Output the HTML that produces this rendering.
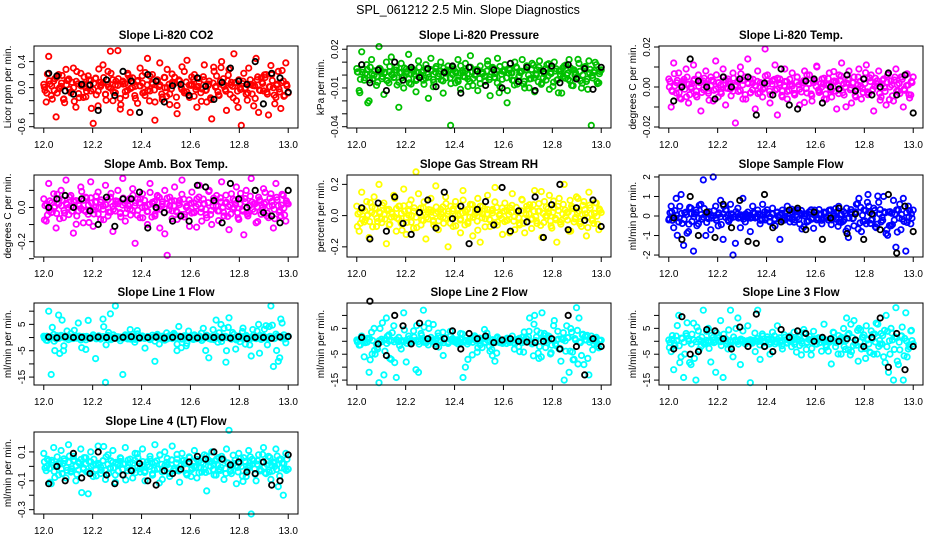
<!DOCTYPE html>
<html><head><meta charset="utf-8"><style>
html,body{margin:0;padding:0;background:#fff;}
svg{display:block;font-family:"Liberation Sans",Arial,sans-serif;}
</style></head><body>
<svg id="chart" width="936" height="540" viewBox="0 0 936 540">
<text x="468" y="14" text-anchor="middle" font-size="12.5">SPL_061212  2.5 Min. Slope Diagnostics</text>
</svg>
<script>
const xTickLabels = ["12.0","12.2","12.4","12.6","12.8","13.0"];
const xTickValues = [12.0,12.2,12.4,12.6,12.8,13.0];

const co2Vals = [0.05,-0.22,0.48,-0.12,0.1,-0.45,0.2,0.02,-0.18,0.28,0.12,-0.08,0.3,-0.3,0.06,0.22,-0.15,0.0,0.18,-0.05,-0.55,0.14,-0.28,0.08,0.35,-0.1,0.25,0.56,-0.2,0.04,0.57,-0.33,0.1,-0.06,0.22,-0.38,0.15,0.02,-0.24,0.3,0.07,-0.12,0.45,-0.05,0.2,-0.5,0.12,0.38,-0.18,0.0,0.28,-0.26,0.08,0.16,-0.4,0.1,0.32,-0.08,0.42,-0.15,0.05,0.2,-0.3,0.14,-0.02,0.35,-0.22,0.1,-0.48,0.25,0.18,-0.12,0.4,0.02,-0.35,0.28,0.08,0.52,-0.2,0.12,-0.58,0.22,-0.1,0.3,0.05,-0.28,0.45,-0.38,0.15,-0.05,0.2,-0.42,0.34,0.0,-0.15,0.25,-0.32,0.1,0.38,-0.08];
const co2Black = [0.22,0.18,-0.05,-0.1,0.05,0.04,-0.35,0.12,-0.12,0.25,0.1,-0.38,0.2,0.1,-0.22,0.03,0.05,-0.12,0.15,0.02,-0.18,0.08,0.3,0.1,0.05,0.4,-0.25,0.22,0.15,-0.07];
const presVals = [0.005,-0.012,0.018,-0.004,0.008,-0.02,0.012,0.0,-0.008,0.022,0.003,-0.015,0.01,-0.006,0.014,-0.002,0.006,-0.025,0.009,-0.01,0.002,0.016,-0.007,0.004,-0.013,0.011,0.0,-0.004,0.008,-0.018,0.013,-0.009,0.005,-0.001,0.01,-0.014,0.003,0.007,-0.039,0.006,-0.006,0.012,-0.011,0.002,0.009,-0.003,0.015,-0.008,0.004,-0.012,0.007,0.001,-0.005,0.011,-0.016,0.006,-0.002,0.013,-0.009,0.003,0.008,-0.012,0.005,-0.004,0.01,-0.007,0.002,0.012,-0.01,0.006,-0.003,0.009,-0.013,0.004,0.011,-0.006,0.001,0.008,-0.011,0.005,0.01,-0.004,0.003,-0.014,0.007,0.0,0.012,-0.008,0.004,-0.002,0.009,-0.01,0.006,-0.005,0.011,-0.039,0.002,0.008,-0.006,0.004];
const presBlack = [0.008,-0.006,0.004,-0.012,0.01,-0.004,0.006,-0.002,0.005,-0.009,0.002,0.007,-0.014,0.006,0.003,-0.008,0.004,-0.01,0.009,-0.005,0.006,-0.012,0.003,0.007,-0.006,0.008,-0.003,0.005,-0.011,0.006];
const tempVals = [0.004,-0.01,0.012,-0.003,0.007,-0.006,0.002,0.009,-0.008,0.0,0.011,-0.004,0.006,-0.012,0.003,0.008,-0.002,0.005,-0.007,0.013,-0.005,0.001,0.009,-0.009,0.004,-0.001,0.007,-0.018,0.003,0.01,-0.006,0.005,0.014,-0.003,0.002,-0.011,0.008,0.0,-0.005,0.019,0.006,-0.008,0.003,0.011,-0.014,0.004,-0.002,0.009,-0.006,0.001,0.007,-0.004,0.005,-0.009,0.002,0.008,-0.003,0.006,-0.007,0.003,0.01,-0.002,0.004,-0.006,0.001,0.007,-0.005,0.003,-0.011,0.006,0.012,-0.004,0.002,0.008,-0.008,0.005,-0.001,0.009,-0.006,0.004,0.011,-0.003,0.006,-0.012,0.002,0.008,-0.005,0.004,-0.009,0.007,0.003,-0.007,0.009,-0.002,0.005,-0.01,0.006,0.001,-0.004,0.005];
const tempBlack = [-0.007,0.0,0.014,0.003,0.0,-0.006,0.005,0.0,0.004,0.005,-0.014,0.002,-0.004,0.009,-0.009,-0.011,0.003,0.004,-0.008,0.0,-0.001,0.006,-0.002,0.004,-0.004,0.0,0.007,-0.004,0.006,-0.013];
const ambVals = [0.05,-0.08,0.14,-0.03,0.08,-0.12,0.02,0.1,-0.06,0.16,0.0,0.07,-0.15,0.04,-0.02,0.12,-0.09,0.06,-0.04,0.15,-0.11,0.03,0.09,-0.07,0.01,0.13,-0.05,0.06,-0.14,0.02,0.1,-0.03,0.17,-0.08,0.04,-0.01,0.11,-0.21,0.05,-0.06,0.08,0.0,-0.1,0.14,0.03,-0.05,0.07,-0.12,0.02,0.1,-0.28,0.06,-0.02,0.12,-0.07,0.04,0.16,-0.04,0.01,-0.11,0.09,-0.03,0.05,0.13,-0.08,0.02,-0.06,0.1,-0.1,0.04,0.07,-0.02,0.15,-0.05,0.03,-0.13,0.08,0.0,0.12,-0.07,0.05,-0.16,0.1,-0.03,0.17,0.02,-0.09,0.06,-0.04,0.11,0.03,-0.06,0.08,-0.12,0.14,0.01,-0.05,0.07,-0.08,0.02];
const ambBlack = [0.0,0.05,0.07,0.0,0.05,-0.02,-0.1,0.06,-0.11,0.05,0.05,0.09,-0.12,0.0,-0.03,-0.08,-0.05,-0.08,0.13,0.12,0.04,-0.09,0.14,0.05,0.0,0.1,-0.03,-0.05,-0.09,0.1];
const rhVals = [0.06,-0.1,0.15,-0.04,0.09,-0.14,0.02,0.12,-0.07,0.2,-0.02,0.08,-0.18,0.04,-0.01,0.13,-0.1,0.06,-0.05,0.17,-0.12,0.03,0.1,-0.08,0.28,0.14,-0.06,0.05,-0.15,0.02,0.11,-0.03,0.19,-0.09,0.04,-0.01,0.12,-0.2,0.06,-0.07,0.09,0.0,-0.11,0.16,0.03,-0.05,0.07,-0.13,0.02,0.11,-0.17,0.06,-0.02,0.13,-0.07,0.04,0.18,-0.04,0.01,-0.12,0.08,-0.03,0.05,0.14,-0.09,0.02,-0.06,0.1,-0.11,0.04,0.07,-0.02,0.16,-0.05,0.03,-0.14,0.09,0.0,0.13,-0.08,0.05,-0.17,0.11,-0.03,0.2,0.02,-0.1,0.06,-0.04,0.12,0.03,-0.07,0.09,-0.13,0.15,0.01,-0.05,0.08,-0.09,0.02];
const rhBlack = [0.05,-0.15,0.08,-0.1,0.12,-0.05,-0.12,0.02,0.1,-0.08,0.15,-0.02,0.06,-0.18,0.04,0.09,-0.06,0.18,-0.1,0.03,-0.04,0.12,-0.14,0.07,0.2,-0.09,0.05,-0.03,0.1,-0.07];
const sfVals = [-0.2,0.5,-0.6,0.9,-0.3,1.1,-1.5,0.2,-0.8,0.4,-1.8,0.3,-0.4,0.6,1.85,-1.0,0.1,-0.7,2.0,0.5,-0.5,0.8,-1.2,0.3,-0.2,0.6,-2.0,-1.4,0.4,-0.6,0.9,-0.3,0.2,-0.8,0.5,-0.1,0.3,-0.4,0.6,-0.2,0.1,-0.3,0.4,-0.5,0.2,-1.2,0.3,-0.1,0.5,-0.3,0.2,-0.2,0.3,-0.4,0.1,0.0,-0.3,0.2,-0.1,0.3,-0.2,0.1,-0.4,0.2,-0.1,0.3,-0.2,0.0,0.2,-0.3,0.1,-0.2,0.4,-0.1,0.2,-0.5,0.6,0.9,-0.8,0.3,-0.4,0.5,-0.2,0.4,-0.6,0.7,-0.3,1.0,-0.9,0.2,-0.5,0.8,-1.6,0.3,-0.7,0.9,-1.8,0.5,-0.4,0.3];
const sfBlack = [-0.1,-1.2,1.0,-1.0,0.2,-1.1,0.6,-0.6,0.8,-1.3,-1.4,1.1,-0.6,-0.3,0.3,0.4,-0.7,0.2,-1.2,-0.1,0.4,-0.9,0.1,-1.2,0.1,-0.7,1.1,-1.9,0.5,-0.8];
const l1Vals = [0.5,-1.0,10.0,-14.0,1.2,-0.5,8.5,0.8,-5.0,0.3,-0.8,1.5,-0.2,0.6,5.5,-0.9,0.4,-4.5,6.5,-0.3,1.0,-8.0,0.2,-0.6,7.0,-17.0,0.8,9.0,-0.4,12.0,0.3,-1.2,-14.0,1.0,-0.5,3.0,0.2,-0.7,1.4,-0.3,0.6,-4.0,0.1,-0.8,0.9,-9.0,1.2,-0.2,0.5,-1.0,0.3,0.8,-0.4,1.1,-2.5,0.2,-0.6,0.7,-0.1,0.4,-0.5,1.0,-0.3,0.6,-1.1,0.2,0.9,-0.4,0.3,-0.8,0.5,1.8,-1.5,3.5,-5.0,7.5,-0.6,1.2,-0.9,0.4,0.2,-0.5,0.8,-0.2,-7.0,1.0,-0.4,5.0,-0.7,0.6,4.5,-0.3,12.0,-11.0,1.3,-9.0,7.0,0.2,-2.0,0.5];
const l1Black = [0.2,-0.1,0.3,0.0,0.1,-0.2,0.2,0.0,-0.3,0.1,0.3,-0.1,0.0,0.2,-0.2,0.1,0.3,0.0,-0.1,0.2,0.0,0.1,-0.2,0.3,-0.4,0.1,0.0,-0.3,0.2,0.4];
const l2Vals = [0.5,-1.5,2.0,-6.0,1.0,-12.0,3.5,5.0,-1.0,-16.0,0.8,-13.0,9.0,2.5,-7.0,6.0,-14.0,1.5,-3.0,11.0,-8.0,2.0,0.5,4.0,-11.0,-12.0,3.0,12.0,-0.5,7.0,1.5,6.5,-1.0,2.0,0.3,-5.5,1.0,-0.8,2.2,0.0,0.5,-1.0,3.0,-14.0,-10.0,-7.0,0.8,-0.4,1.5,-2.5,0.2,1.0,-0.6,1.8,-0.3,0.6,-0.5,1.2,0.0,-0.8,0.4,1.0,-0.3,2.0,-1.0,0.5,-4.0,1.5,-0.2,0.8,9.0,-1.0,10.0,4.0,-2.0,11.0,3.0,-0.5,1.8,-1.5,8.0,0.5,-3.0,1.0,-15.0,6.0,-12.0,3.5,-7.0,13.0,9.0,-5.5,-9.0,0.5,-13.0,2.0,-1.0,1.5,-2.5,0.4];
const l2Black = [1.5,15.5,-1.0,-5.5,10.0,6.0,-1.0,7.0,1.0,-2.0,1.0,4.0,-3.0,3.0,1.0,2.0,-0.5,0.5,1.0,0.0,-0.3,-0.5,0.0,1.0,-3.0,10.0,-2.0,-13.0,1.0,-2.0];
const l3Vals = [0.5,-4.0,-11.0,2.0,10.0,-6.0,-14.0,3.0,1.0,-9.0,7.0,-15.0,4.0,-2.0,12.0,-0.5,5.0,-8.0,1.5,-12.0,2.5,8.0,-14.0,1.0,-3.0,12.0,-6.0,0.5,9.0,-9.0,4.0,-1.0,6.0,-16.0,0.3,-4.0,12.0,-7.0,2.0,-2.0,0.8,-5.0,3.5,-1.0,6.0,0.2,-3.0,1.5,-0.5,2.0,0.3,-1.2,1.0,0.5,-0.8,1.4,-0.3,0.6,-0.5,1.0,0.2,-0.6,0.8,-0.2,0.5,-0.4,1.0,0.0,-0.3,0.6,1.5,-2.0,9.0,3.0,-4.0,8.0,-1.5,5.0,-3.0,2.5,6.0,-1.0,4.0,-5.0,7.0,-2.0,3.0,-6.0,10.0,-12.0,5.0,-15.0,13.0,-9.0,2.0,-15.0,11.0,-3.0,4.0,-1.0];
const l3Black = [-3.0,9.5,-5.0,-4.0,4.5,4.0,1.0,-3.0,5.5,-2.0,10.5,-2.0,-4.0,4.5,1.5,4.0,3.0,0.0,1.5,1.0,0.0,1.0,0.5,-2.0,1.5,9.0,-10.0,3.0,-11.0,-2.0];
const l4Vals = [0.09,-0.03,0.04,-0.12,0.13,0.0,-0.06,0.11,0.02,-0.08,0.15,-0.04,0.07,-0.1,0.03,0.12,-0.02,0.06,-0.19,0.1,-0.07,0.01,0.14,-0.05,0.04,-0.09,0.08,-0.01,0.11,-0.11,0.02,0.06,-0.06,0.13,-0.03,0.05,-0.08,0.09,0.0,-0.04,0.12,-0.1,0.03,0.07,-0.05,0.15,-0.02,0.08,-0.09,0.1,0.01,-0.07,0.14,-0.03,0.05,-0.11,0.09,0.02,-0.06,0.06,-0.01,0.11,-0.08,0.04,-0.04,0.08,-0.17,0.03,0.1,-0.06,0.05,-0.02,0.07,-0.09,0.12,0.25,-0.05,0.02,-0.12,0.09,0.0,0.06,-0.07,0.11,-0.33,0.04,-0.1,0.08,-0.03,0.13,-0.05,0.07,-0.09,0.03,0.12,-0.14,0.05,-0.2,0.09,-0.02];
const l4Black = [-0.12,0.0,-0.1,0.09,-0.08,-0.05,0.1,-0.06,-0.12,-0.06,-0.03,0.02,-0.1,-0.13,-0.03,-0.05,-0.02,0.03,0.07,0.05,0.1,0.05,0.01,0.03,-0.04,-0.05,0.03,-0.13,-0.1,0.08];

const panels = [
 {key:"co2", title:"Slope Li-820 CO2", ylab:"Licor ppm per min.", col:0,row:0,color:"#ff0000",lo:-0.62,hi:0.64,ticks:[-0.6,-0.4,-0.2,0,0.2,0.4],labels:{"-0.6":"-0.6","0":"0.0","0.4":"0.4"},v:co2Vals,b:co2Black},
 {key:"pressure", title:"Slope Li-820 Pressure", ylab:"kPa per min.", col:1,row:0,color:"#00c000",lo:-0.041,hi:0.0225,ticks:[-0.04,-0.03,-0.02,-0.01,0,0.01,0.02],labels:{"-0.04":"-0.04","-0.01":"-0.01","0.02":"0.02"},v:presVals,b:presBlack},
 {key:"temp", title:"Slope Li-820 Temp.", ylab:"degrees C per min.", col:2,row:0,color:"#ff00ff",lo:-0.0205,hi:0.0205,ticks:[-0.02,-0.01,0,0.01,0.02],labels:{"-0.02":"-0.02","0":"0.00","0.02":"0.02"},v:tempVals,b:tempBlack},
 {key:"ambbox", title:"Slope Amb. Box Temp.", ylab:"degrees C per min.", col:0,row:1,color:"#ff00ff",lo:-0.29,hi:0.19,ticks:[-0.3,-0.2,-0.1,0,0.1],labels:{"-0.2":"-0.2","0":"0.0"},v:ambVals,b:ambBlack},
 {key:"rh", title:"Slope Gas Stream RH", ylab:"percent per min.", col:1,row:1,color:"#ffff00",lo:-0.265,hi:0.26,ticks:[-0.2,0,0.2],labels:{"-0.2":"-0.2","0":"0.0","0.2":"0.2"},v:rhVals,b:rhBlack},
 {key:"sampleflow", title:"Slope Sample Flow", ylab:"ml/min per min.", col:2,row:1,color:"#0000ff",lo:-2.1,hi:2.1,ticks:[-2,-1,0,1,2],labels:{"-2":"-2","-1":"-1","0":"0","1":"1","2":"2"},v:sfVals,b:sfBlack},
 {key:"line1", title:"Slope Line 1 Flow", ylab:"ml/min per min.", col:0,row:2,color:"#00ffff",lo:-18,hi:13.1,ticks:[-15,-10,-5,0,5,10],labels:{"-15":"-15","-5":"-5","5":"5"},v:l1Vals,b:l1Black},
 {key:"line2", title:"Slope Line 2 Flow", ylab:"ml/min per min.", col:1,row:2,color:"#00ffff",lo:-16.9,hi:14.8,ticks:[-15,-10,-5,0,5,10],labels:{"-15":"-15","-5":"-5","5":"5"},v:l2Vals,b:l2Black},
 {key:"line3", title:"Slope Line 3 Flow", ylab:"ml/min per min.", col:2,row:2,color:"#00ffff",lo:-16.9,hi:14.8,ticks:[-15,-10,-5,0,5,10],labels:{"-15":"-15","-5":"-5","5":"5"},v:l3Vals,b:l3Black},
 {key:"line4", title:"Slope Line 4 (LT) Flow", ylab:"ml/min per min.", col:0,row:3,color:"#00ffff",lo:-0.33,hi:0.238,ticks:[-0.3,-0.2,-0.1,0,0.1],labels:{"-0.3":"-0.3","-0.1":"-0.1","0.1":"0.1"},v:l4Vals,b:l4Black}
];

const NS="http://www.w3.org/2000/svg";
const svg=document.getElementById("chart");
const colLeft=[34,347,659], rowTop=[46,175,303,432], PW=264, PH=82;
function mk(tag,attrs,parent){const e=document.createElementNS(NS,tag);for(const k in attrs)e.setAttribute(k,attrs[k]);parent.appendChild(e);return e;}

panels.forEach(p=>{
  const L=colLeft[p.col], T=rowTop[p.row], R=L+PW, B=T+PH;
  const g=mk("g",{},svg);
  
  
  const xs=v=>L+(v-11.96)/1.08*PW;
  const ys=v=>B-(v-p.lo)/(p.hi-p.lo)*PH;
  const t=mk("text",{x:(L+R)/2,y:T-7,"text-anchor":"middle","font-size":"11.5","font-weight":"bold"},g);
  t.textContent=p.title;
  
  
  const pts=mk("g",{fill:"none","stroke-width":"1.8"},g);
  
  
  const n=p.v.length;
  // main pass
  p.v.forEach((v,i)=>{
    const x=12+i/(n-1);
    const c=mk("circle",{cx:xs(x).toFixed(1),cy:ys(v).toFixed(1),r:"2.7",stroke:p.color},pts);
    
    
  });
  // dense core pass (same readings, interleaved in time, near the centre band)
  p.v.forEach((v,i)=>{
    const x=12+(i+0.5)/n;
    const c=mk("circle",{cx:xs(x).toFixed(1),cy:ys(p.v[n-1-i]*0.55).toFixed(1),r:"2.7",stroke:p.color},pts);
    
    
  });
  p.v.forEach((v,i)=>{
    const x=12+(i+0.25)/n;
    const c=mk("circle",{cx:xs(x).toFixed(1),cy:ys(p.v[(i+37)%n]*0.35).toFixed(1),r:"2.7",stroke:p.color},pts);
    
    
  });
  p.b.forEach((v,i)=>{
    const x=12.02+i*0.98/(p.b.length-1);
    const c=mk("circle",{cx:xs(x).toFixed(1),cy:ys(v).toFixed(1),r:"2.7",stroke:"#000"},pts);
    
    
  });
  const box=mk("rect",{x:L,y:T,width:PW,height:PH,fill:"none",stroke:"#000","stroke-width":"1"},g);
  
  
  const xa=mk("g",{},g);
  
  
  xTickValues.forEach((v,i)=>{
    const x=xs(v);
    mk("line",{x1:x,y1:B,x2:x,y2:B+5,stroke:"#000"},xa);
    const tl=mk("text",{x:x,y:B+20,"text-anchor":"middle","font-size":"10"},xa);
    tl.textContent=xTickLabels[i];
    
    
  });
  const ya=mk("g",{},g);
  
  
  p.ticks.forEach(v=>{
    const y=ys(v);
    mk("line",{x1:L-5,y1:y,x2:L,y2:y,stroke:"#000"},ya);
    const lab=p.labels[String(v)];
    if(lab!==undefined){
      const tl=mk("text",{x:L-9,y:y,"text-anchor":"middle","font-size":"10",transform:`rotate(-90 ${L-9} ${y})`},ya);
      tl.textContent=lab;
      
      
    }
  });
  const yt=mk("text",{x:L-23,y:(T+B)/2,"text-anchor":"middle","font-size":"10",transform:`rotate(-90 ${L-23} ${(T+B)/2})`},g);
  yt.textContent=p.ylab;
  
  
});
</script>
</body></html>
